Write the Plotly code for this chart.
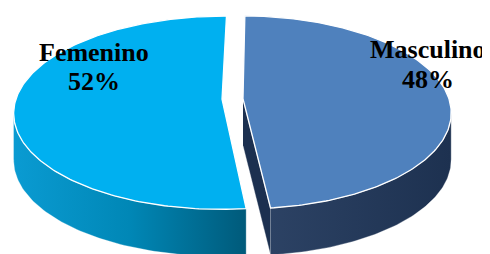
import numpy as np
import plotly.graph_objects as go

# ---- data ----
categories = ["Femenino", "Masculino"]
values = [52, 48]

# ---- styling ----
top_colors = ["#00B0F0", "#4F81BD"]
side_scales = [
    [[0, "#0a9bd2"], [0.5, "#0087b6"], [1, "#005a7a"]],
    [[0, "#2c4264"], [1, "#1d3150"]],
]
radial_colors = ["#006a8e", "#1c3050"]
label_pos = [(94, 52, 81), (428, 49, 79)]

# pseudo-3D projection parameters (pixels)
CX, CY = 232.5, 99.0
K, M, C = 206.0, 94.6, 0.14
H = 47.0
EXPLODE = 0.051
START = 89.0  # degrees, first slice boundary

# page body margin compensation (px)
OFF = 8


def proj(u, v, drop=0.0):
    d = 1 + C * v
    return CX + K * u / d, CY - M * v / d + drop


fig = go.Figure()
total = float(sum(values))
front_lo = 180 + np.degrees(np.arcsin(C))
front_hi = 360 - np.degrees(np.arcsin(C))
cam = np.array([0.0, -1.0 / C])

slices = []
a = START
for i, val in enumerate(values):
    span = 360.0 * val / total
    t1, t2 = a, a + span
    mid = np.radians((t1 + t2) / 2)
    ou, ov = EXPLODE * np.cos(mid), EXPLODE * np.sin(mid)
    slices.append((i, t1, t2, ou, ov))
    a = t2

# radial faces (drawn first)
for i, t1, t2, ou, ov in slices:
    for t, sgn in ((t1, 1), (t2, -1)):
        r = np.radians(t)
        n = np.array([np.sin(r), -np.cos(r)]) * sgn
        p = np.array([ou, ov])
        if np.dot(n, cam - p) > 0.3:
            pts = [(ou, ov), (ou + np.cos(r), ov + np.sin(r))]
            xs, ys = [], []
            for (u, v) in pts:
                x, y = proj(u, v)
                xs.append(x); ys.append(y)
            for (u, v) in pts[::-1]:
                x, y = proj(u, v, H)
                xs.append(x); ys.append(y)
            fig.add_trace(go.Scatter(x=xs, y=ys, fill="toself", mode="lines",
                                     fillcolor=radial_colors[i],
                                     line=dict(color="rgba(255,255,255,0.6)", width=0.6),
                                     hoverinfo="skip", showlegend=False))

# outer sides
for i, t1, t2, ou, ov in slices:
    for shift in (0, 360, -360):
        lo = max(t1 + shift, front_lo)
        hi = min(t2 + shift, front_hi)
        if hi <= lo:
            continue
        th = np.radians(np.linspace(lo, hi, 80))
        u = ou + np.cos(th); v = ov + np.sin(th)
        xt, yt = proj(u, v)
        xb, yb = proj(u[::-1], v[::-1], H)
        xs = np.concatenate([xt, xb]); ys = np.concatenate([yt, yb])
        fig.add_trace(go.Scatter(x=xs, y=ys, fill="toself", mode="lines",
                                 fillgradient=dict(type="horizontal", colorscale=side_scales[i]),
                                 line=dict(color="rgba(255,255,255,0.5)", width=0.6),
                                 hoverinfo="skip", showlegend=False))

# top faces
for i, t1, t2, ou, ov in slices:
    th = np.radians(np.linspace(t1, t2, 200))
    u = np.concatenate([[ou], ou + np.cos(th), [ou]])
    v = np.concatenate([[ov], ov + np.sin(th), [ov]])
    xs, ys = proj(u, v)
    fig.add_trace(go.Scatter(x=xs, y=ys, fill="toself", mode="lines",
                             fillcolor=top_colors[i],
                             line=dict(color="white", width=1.3),
                             hoverinfo="skip", showlegend=False))

# labels
for i, cat in enumerate(categories):
    lx, ly1, ly2 = label_pos[i]
    pct = round(100 * values[i] / total)
    fig.add_annotation(x=lx, y=ly1, text=f"<b>{cat}</b>", showarrow=False,
                       font=dict(family="Liberation Serif", size=26, color="black"),
                       xanchor="center", yanchor="middle")
    fig.add_annotation(x=lx, y=ly2, text=f"<b>{pct}%</b>", showarrow=False,
                       font=dict(family="Liberation Serif", size=26, color="black"),
                       xanchor="center", yanchor="middle")

fig.update_layout(
    width=490, height=254,
    margin=dict(l=0, r=0, t=0, b=0),
    paper_bgcolor="white", plot_bgcolor="white",
    xaxis=dict(range=[OFF, 490 + OFF], visible=False, fixedrange=True),
    yaxis=dict(range=[254 + OFF, OFF], visible=False, fixedrange=True),
)
fig.write_html("out.html")
